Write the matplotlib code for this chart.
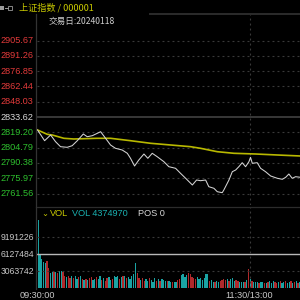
import matplotlib
matplotlib.use("Agg")
import matplotlib.pyplot as plt
from matplotlib.lines import Line2D
from matplotlib.patches import Rectangle
from matplotlib.transforms import blended_transform_factory

# --- data ---
stock_name = "上证指数 / 000001"
trade_day = "交易日:20240118"
prev_close = 2833.62
price_ticks = [2905.67, 2891.26, 2876.85, 2862.44, 2848.03, 2833.62,
               2819.20, 2804.79, 2790.38, 2775.97, 2761.56]

# minute index from 09:30 and index value
price_min = [0, 4.0, 7.4, 10.2, 13.0, 16.8, 19.6, 22.5, 25.9, 28.1, 31.0, 35.7,
             38.5, 41.3, 44.1, 47.9, 50.8, 52.6, 54.9, 57.3, 60.2, 62.4, 64.9,
             67.7, 71.5, 74.3, 78.1, 80.9, 83.8, 87.6, 90.0, 92.2, 95.1, 96.9,
             99.8, 101.7, 104.5, 105.4, 108.3, 110.2, 112.1, 113.9, 115.8,
             117.7, 119.6, 120.5, 121.5, 124.3, 126.2, 129.0, 131.9, 135.7,
             138.5, 140.4, 142.2, 144.1, 146.0, 148.8]
price = [2821.38, 2811.30, 2816.67, 2810.36, 2805.65, 2805.08, 2806.59, 2811.30,
         2817.61, 2815.06, 2816.01, 2819.77, 2813.56, 2807.25, 2804.14, 2802.54,
         2799.43, 2794.72, 2787.47, 2793.12, 2798.77, 2794.72, 2799.43, 2796.23,
         2791.52, 2786.81, 2785.30, 2780.59, 2775.88, 2769.57, 2774.28, 2773.62,
         2774.28, 2767.97, 2766.46, 2763.26, 2762.32, 2764.86, 2774.28, 2782.10,
         2783.70, 2786.81, 2790.58, 2786.81, 2791.52, 2795.66, 2790.01, 2790.58,
         2785.30, 2782.10, 2778.05, 2775.88, 2774.94, 2776.82, 2779.93, 2775.88,
         2777.39, 2776.82]

avg_min = [0, 5.5, 8.3, 14.9, 20.5, 33.8, 41.3, 52.6, 64.0, 75.3, 86.6, 92.2,
           101.7, 111.1, 123.4, 135.7, 148.8]
avg_price = [2821.38, 2817.32, 2816.67, 2813.56, 2812.90, 2813.56, 2813.56,
             2811.30, 2808.85, 2807.25, 2805.65, 2804.14, 2800.94, 2799.43,
             2798.77, 2797.83, 2796.89]

# per-minute volume, millions
vol_m = [12.3, 6.0, 5.3, 4.7, 4.5, 4.9, 3.6, 2.7, 2.9, 2.9,
         2.9, 2.7, 3.1, 3.2, 2.9, 2.2, 2.0, 2.2, 1.9, 2.2,
         1.8, 2.2, 1.7, 2.0, 2.2, 1.7, 1.5, 1.7, 1.5, 1.8,
         2.0, 1.5, 1.7, 2.0, 1.7, 2.2, 1.5, 1.8, 1.3, 1.8,
         2.0, 1.5, 1.7, 2.2, 2.0, 2.3, 1.7, 2.0, 2.2, 2.2,
         1.8, 2.0, 1.6, 2.3, 2.5, 4.5, 2.7, 1.8, 1.5, 1.9,
         1.4, 1.6, 1.3, 1.8, 1.5, 1.2, 1.9, 1.4, 1.6, 1.3,
         1.7, 1.5, 1.3, 1.4, 1.3, 1.2, 1.2, 1.1, 1.2, 1.5,
         1.6, 2.4, 2.5, 2.1, 2.4, 2.7, 2.5, 2.1, 1.8, 1.6,
         2.0, 1.6, 1.8, 1.5, 1.8, 2.6, 2.5, 1.4, 1.5, 1.2,
         1.2, 1.3, 1.2, 1.4, 1.5, 1.6, 1.5, 1.6, 1.4, 1.7,
         1.8, 1.4, 1.5, 1.4, 1.2, 1.2, 1.1, 1.1, 1.5, 3.4,
         1.6, 1.4, 1.2, 1.1, 1.1, 1.0, 1.2, 1.1, 1.0, 1.0,
         1.2, 1.3, 1.0, 1.4, 1.1, 1.0, 1.2, 1.3, 1.0, 1.1,
         1.4, 1.0, 1.2, 1.3, 1.0, 1.1, 1.3, 1.0, 1.2]
# r = up minute, g = down minute
vol_dir = ("gggggrrggr" "grggrrgrrg" "rggrgrgrgr" "rggrggrgrr" "ggrgggrgrg"
           "rgggggrrgr" "rggrgggrgr" "gggrggrggr" "rggggrrrrr" "gggggggrgg"
           "rggrrrrgrg" "ggrrgggrgr" "grgggrggrg" "rgggrrgrgg" "rggrgrgrg")
vol_ticks = [9191226, 6127484, 3063742]
last_vol = 4374970
time_labels = ["09:30:00", "11:30/13:00"]
time_pos = [0, 120]

BG = "black"
RED = "#e23a3a"
GREEN = "#2ec02e"
TEAL = "#1aa3a3"
BAR_RED = "#b0292b"
YELLOW = "#b8b800"
GRID = "#3a3a3a"
NUM_FONT = "Liberation Sans"
CJK = ["Noto Sans CJK SC", "DejaVu Sans"]

plt.rcParams["lines.scale_dashes"] = False
W = H = 300.0


def fx(px):
    return px / W


def fy(py):
    return 1 - py / H


fig = plt.figure(figsize=(3, 3), dpi=100, facecolor=BG)

ax_p = fig.add_axes([fx(37), fy(205), (W - 37) / W, (205 - 14) / H], facecolor=BG)
ax_v = fig.add_axes([fx(37), fy(288.3), (W - 37) / W, (288.3 - 207) / H], facecolor=BG)
for ax in (ax_p, ax_v):
    ax.set_axis_off()
    ax.set_xlim(-0.3, 148.5)

ax_p.set_ylim(2750.73, 2930.64)
ax_v.set_ylim(0, 14.65e6)

# price grid
for v in price_ticks:
    if v == prev_close:
        ax_p.axhline(v, color="#3c3c3c", lw=1.3)
    else:
        ax_p.axhline(v, color=GRID, lw=0.8, ls=(0, (1.4, 2.2)))
ax_p.axvline(120, color=GRID, lw=0.8, ls=(0, (1.4, 2.2)))

ax_p.plot(avg_min, avg_price, color=YELLOW, lw=1.2)
ax_p.plot(price_min, price, color="#d4d4d4", lw=0.75)

tp = blended_transform_factory(fig.transFigure, ax_p.transData)
for v in price_ticks:
    c = RED if v > prev_close else (GREEN if v < prev_close else "#d8d8d8")
    ax_p.text(fx(33.5), v, f"{v:.2f}", transform=tp, ha="right", va="center",
              color=c, fontsize=6.6, family=NUM_FONT, clip_on=False)

# volume panel
mins = list(range(len(vol_m)))
vols = [v * 1e6 for v in vol_m]
colors = [BAR_RED if d == "r" else TEAL for d in vol_dir]
ax_v.bar(mins, vols, width=0.72, color=colors, linewidth=0, align="edge")
for v in vol_ticks:
    if v == vol_ticks[1]:
        ax_v.axhline(v, color="#b8b8b8", lw=1.0)
    else:
        ax_v.axhline(v, color=GRID, lw=0.8, ls=(0, (1.4, 2.2)))
ax_v.axvline(120, color=GRID, lw=0.8, ls=(0, (1.4, 2.2)))

tv = blended_transform_factory(fig.transFigure, ax_v.transData)
for v in vol_ticks:
    ax_v.text(fx(34), v, str(v), transform=tv, ha="right", va="center",
              color="#c8c8c8", fontsize=6.2, family=NUM_FONT, clip_on=False)

# x labels
tx = blended_transform_factory(ax_v.transData, fig.transFigure)
for lab, m in zip(time_labels, time_pos):
    ax_v.text(m, fy(295.5), lab, transform=tx, ha="center", va="center",
              color="#c8c8c8", fontsize=6.6, family=NUM_FONT, clip_on=False)

# frame lines
fig.add_artist(Line2D([fx(150), 1], [fy(13.5)] * 2, color="#2c2c2c", lw=1.4))
fig.add_artist(Line2D([fx(36), 1], [fy(206.7)] * 2, color="#2c2c2c", lw=0.9))
fig.add_artist(Line2D([fx(36)] * 2, [fy(14), fy(289)], color="#333333", lw=0.9))

# header
fig.add_artist(Rectangle((fx(0), fy(10)), fx(4), 4 / H, color="#9a9a9a", lw=0))
fig.add_artist(Line2D([fx(4.5), fx(7.5)], [fy(8)] * 2, color="#9a9a9a", lw=0.7))
fig.add_artist(Rectangle((fx(8), fy(10)), fx(4), 4 / H, fill=False,
                         edgecolor="#9a9a9a", lw=0.6))
fig.text(fx(19), fy(8), stock_name, color="#c8c800", fontsize=6.6,
         family=CJK, ha="left", va="center")
fig.text(fx(48.5), fy(21), trade_day, color="#d0d0d0", fontsize=6.2,
         family=CJK, ha="left", va="center")

# volume header
fig.text(fx(41), fy(213), "⌄", color="#c8c800", fontsize=6, family="DejaVu Sans",
         ha="left", va="center")
fig.text(fx(50), fy(213), "VOL", color="#c8c800", fontsize=6.6, family=NUM_FONT,
         ha="left", va="center")
fig.text(fx(72), fy(213), f"VOL {last_vol}", color="#1ab0b0", fontsize=6.6,
         family=NUM_FONT, ha="left", va="center")
fig.text(fx(138), fy(213), "POS 0", color="#d8d8d8", fontsize=6.6,
         family=NUM_FONT, ha="left", va="center")

fig.savefig("out.png", dpi=100, facecolor=BG)
